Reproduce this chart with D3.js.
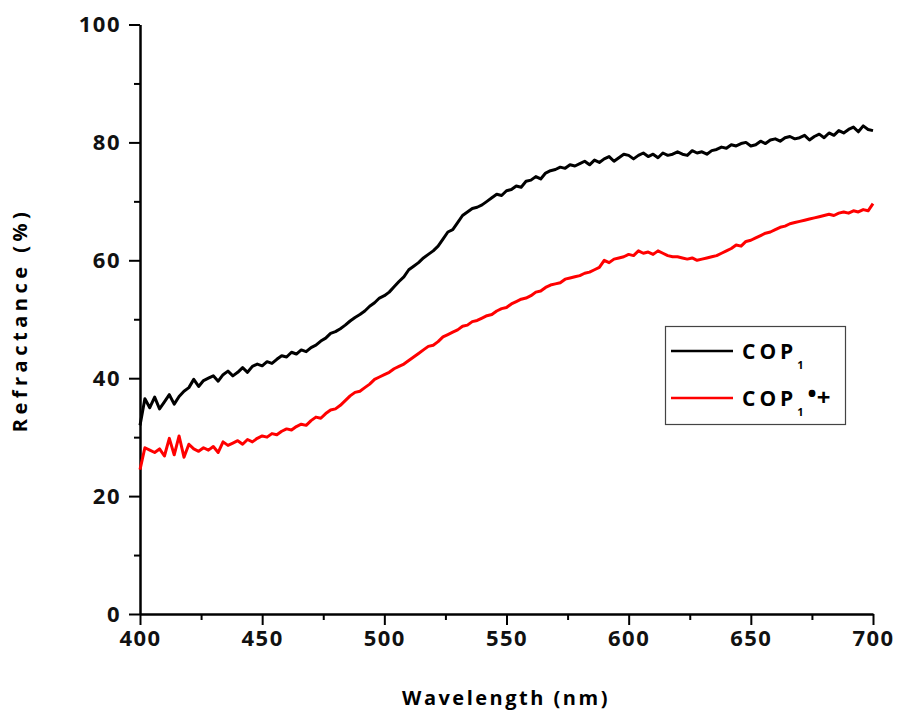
<html><head>
  <script src="https://d3js.org/d3.v7.min.js"></script>
  <style>
    body { margin: 0; background: #fff; }
    text { font-family: 'Open Sans', 'DejaVu Sans', sans-serif; font-weight: bold; }
  </style>
</head>
<body>
<script>
  // wavelengths every 2 nm, 400..700
  const wavelengths = d3.range(400, 701, 2)

  const cop1 = [
    32.0,36.5,35.0,36.8,34.8,36.0,37.2,35.6,36.9,37.8,
    38.4,39.8,38.6,39.6,40.0,40.4,39.5,40.6,41.2,40.4,
    41.0,41.8,41.0,42.0,42.4,42.1,42.8,42.5,43.2,43.8,
    43.6,44.4,44.1,44.8,44.5,45.2,45.6,46.3,46.8,47.6,
    47.9,48.4,49.0,49.7,50.3,50.8,51.4,52.2,52.8,53.6,
    54.0,54.6,55.5,56.4,57.2,58.4,59.0,59.6,60.4,61.0,
    61.6,62.4,63.6,64.8,65.2,66.4,67.6,68.2,68.8,69.0,
    69.4,70.0,70.6,71.2,71.0,71.8,72.0,72.6,72.4,73.4,
    73.6,74.2,73.8,74.8,75.2,75.4,75.8,75.6,76.2,76.0,
    76.4,76.8,76.2,77.0,76.6,77.2,77.6,76.8,77.4,78.0,
    77.8,77.2,77.8,78.2,77.6,78.0,77.4,78.2,77.8,78.0,
    78.4,78.0,77.8,78.6,78.2,78.4,78.0,78.6,78.8,79.2,
    79.0,79.6,79.4,79.8,80.0,79.4,79.6,80.2,79.8,80.4,
    80.6,80.2,80.8,81.0,80.6,80.8,81.2,80.4,81.0,81.4,
    80.8,81.6,81.2,82.0,81.6,82.2,82.6,81.8,82.8,82.2,
    82.0
  ]

  const cop1Ox = [
    24.5,28.2,27.8,27.4,28.0,26.8,29.8,27.0,30.2,26.6,
    28.8,28.0,27.6,28.2,27.8,28.4,27.4,29.2,28.6,29.0,
    29.4,28.8,29.6,29.2,29.8,30.2,30.0,30.6,30.4,31.0,
    31.4,31.2,31.8,32.2,32.0,32.8,33.4,33.2,34.0,34.6,
    34.8,35.4,36.2,37.0,37.6,37.8,38.4,39.0,39.8,40.2,
    40.6,41.0,41.6,42.0,42.4,43.0,43.6,44.2,44.8,45.4,
    45.6,46.2,47.0,47.4,47.8,48.2,48.8,49.0,49.6,49.8,
    50.2,50.6,50.8,51.4,51.8,52.0,52.6,53.0,53.4,53.6,
    54.0,54.6,54.8,55.4,55.8,56.0,56.2,56.8,57.0,57.2,
    57.4,57.8,58.0,58.4,58.8,60.0,59.6,60.2,60.4,60.6,
    61.0,60.8,61.6,61.2,61.4,61.0,61.6,61.2,60.8,60.6,
    60.6,60.4,60.2,60.4,60.0,60.2,60.4,60.6,60.8,61.2,
    61.6,62.0,62.6,62.4,63.2,63.4,63.8,64.2,64.6,64.8,
    65.2,65.6,65.8,66.2,66.4,66.6,66.8,67.0,67.2,67.4,
    67.6,67.8,67.6,68.0,68.2,68.0,68.4,68.2,68.6,68.4,
    69.6
  ]

  const xTicks = [400, 450, 500, 550, 600, 650, 700]
  const yTicks = [0, 20, 40, 60, 80, 100]
  const seriesNames = ["COP", "COP"]
  const seriesColors = ["#000000", "#ff0000"]

  const W = 899, H = 713
  const svg = d3.select("body").append("svg")
                .attr("width", W)
                .attr("height", H)

  const x = d3.scaleLinear().domain([400, 700]).range([140, 873])
  const y = d3.scaleLinear().domain([0, 100]).range([614, 24.5])

  // minor ticks
  svg.append("g")
     .attr("transform", "translate(0,614)")
     .call(d3.axisBottom(x).tickValues(d3.range(425, 700, 50)).tickSize(6).tickFormat(""))
     .call(g => g.select(".domain").remove())
  svg.append("g")
     .attr("transform", "translate(140,0)")
     .call(d3.axisLeft(y).tickValues(d3.range(10, 100, 20)).tickSize(6).tickFormat(""))
     .call(g => g.select(".domain").remove())

  // major axes
  const xAxis = svg.append("g")
     .attr("transform", "translate(0,614)")
     .call(d3.axisBottom(x).tickValues(xTicks).tickSize(11).tickSizeOuter(0).tickPadding(5))
  const yAxis = svg.append("g")
     .attr("transform", "translate(140,0)")
     .call(d3.axisLeft(y).tickValues(yTicks).tickSize(11).tickSizeOuter(0).tickPadding(8))

  svg.selectAll(".tick line").attr("stroke", "#000").attr("stroke-width", 2)
  svg.selectAll(".domain").attr("stroke", "#000").attr("stroke-width", 2.5)
  xAxis.selectAll("text").style("font-size", "22px").style("letter-spacing", "1.5px")
       .attr("fill", "#111")
  yAxis.selectAll("text").style("font-size", "22px").style("letter-spacing", "1.5px")
       .attr("fill", "#111")

  // axis titles
  svg.append("text")
     .attr("x", 506).attr("y", 705)
     .attr("text-anchor", "middle")
     .style("font-size", "20px")
     .style("letter-spacing", "2.5px")
     .text("Wavelength (nm)")
  svg.append("text")
     .attr("transform", "translate(27,320) rotate(-90)")
     .attr("text-anchor", "middle")
     .style("font-size", "20px")
     .style("letter-spacing", "4.5px")
     .text("Refractance (%)")

  // lines
  const line = d3.line()
                 .x((d, i) => x(wavelengths[i]))
                 .y(d => y(d))
  const allSeries = [cop1, cop1Ox]
  allSeries.forEach((s, k) => {
    svg.append("path")
       .datum(s)
       .attr("d", line)
       .attr("fill", "none")
       .attr("stroke", seriesColors[k])
       .attr("stroke-width", 3)
       .attr("stroke-linejoin", "round")
  })

  // legend
  const legend = svg.append("g")
  legend.append("rect")
        .attr("x", 665.5).attr("y", 326.5)
        .attr("width", 180).attr("height", 98)
        .attr("fill", "#fff")
        .attr("stroke", "#444")
        .attr("stroke-width", 1.2)
  seriesNames.forEach((name, k) => {
    const ly = 351 + k * 47
    legend.append("line")
          .attr("x1", 671).attr("x2", 733)
          .attr("y1", ly).attr("y2", ly)
          .attr("stroke", seriesColors[k])
          .attr("stroke-width", 2.6)
    const t = legend.append("text")
          .attr("x", 742).attr("y", ly + 8)
          .style("font-size", "21px")
          .style("letter-spacing", "4px")
    t.append("tspan").text(name)
    t.append("tspan").attr("dy", 10).style("font-size", "11px").text("1")
    if (k == 1) {
      t.append("tspan").attr("dy", -14).style("font-size", "24px").style("letter-spacing", "0px").text("•")
      t.append("tspan").attr("dy", 4).style("font-size", "24px").style("letter-spacing", "0px").text("+")
    }
  })
</script>
</body></html>
